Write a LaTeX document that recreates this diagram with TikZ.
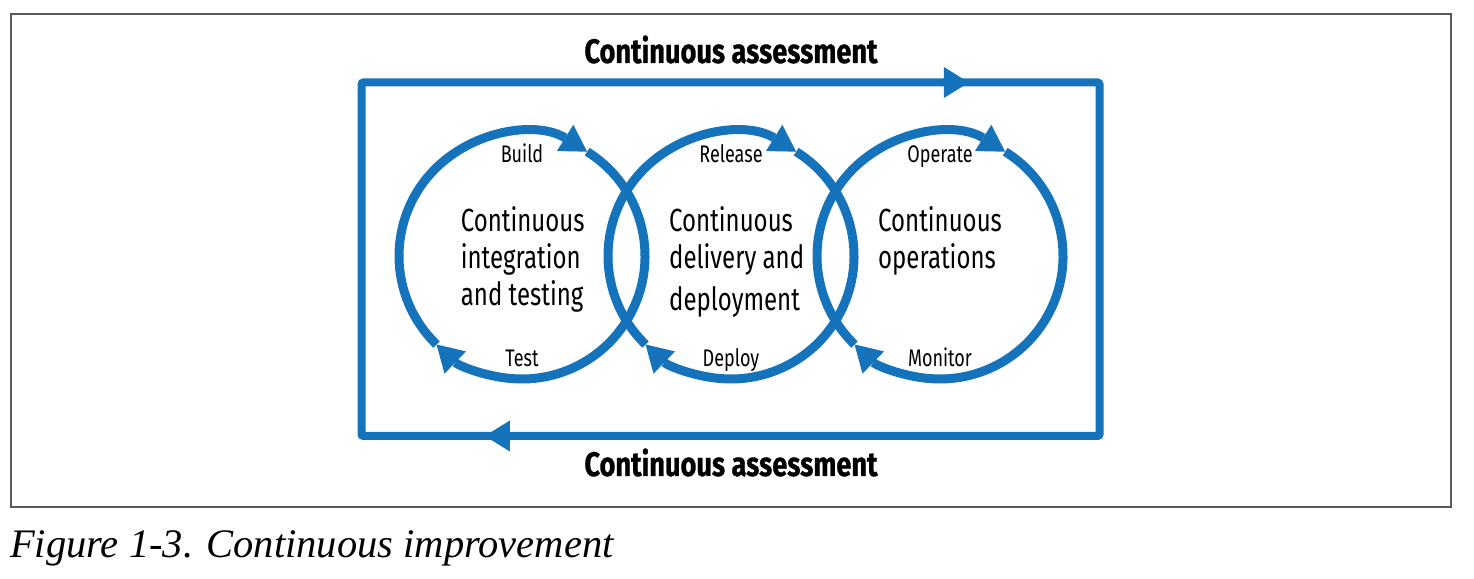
\documentclass[tikz,border=0pt]{standalone}
\usepackage{fontspec}
\setmainfont{Liberation Serif}
\newfontfamily\condsans{Fira Sans}[FakeStretch=0.75]
\newfontfamily\condsansbf{Fira Sans}[FakeStretch=0.80, BoldFeatures={FakeBold=0.8}]
\usepackage{tikz}
\usetikzlibrary{arrows.meta,decorations.markings}
\definecolor{cyclblue}{RGB}{20,115,186}
\tikzset{
  framebox/.style={draw=black!65, line width=1.3pt},
  loopline/.style={
    draw=cyclblue, line width=8pt, rounded corners=2pt
  },
  looptip/.style={
    postaction={decorate},
    decoration={markings,
      mark=at position 958pt with {\arrow{Triangle[length=25pt,width=31pt,line width=0pt]}},
      mark=at position 2055pt with {\arrow{Triangle[length=25pt,width=31pt,line width=0pt]}}}
  },
  cyclearc/.style={
    draw=cyclblue, line width=9pt,
    -{Triangle[length=26pt,width=31pt,line width=0pt]}
  },
  phasetext/.style={
    font=\condsans\fontsize{32}{37}\selectfont,
    align=left, anchor=north west, inner sep=0pt
  },
  steplabel/.style={
    font=\condsans\fontsize{24}{28}\selectfont,
    anchor=base, inner sep=0pt
  },
  looplabel/.style={
    font=\condsansbf\bfseries\fontsize{34}{40}\selectfont,
    anchor=base, inner sep=0pt
  },
  caption/.style={
    font=\itshape\fontsize{40.5}{46}\selectfont,
    anchor=base west, inner sep=0pt
  }
}

\begin{document}
\begin{tikzpicture}[x=1pt, y=1pt]
  \useasboundingbox (0,0) rectangle (1474,578);

  % ==== FRAME ====
  \draw[framebox] (11,71) rectangle (1451,564);

  % ==== ASSESSMENT LOOP ====
  \coordinate (bl) at (361.5,142);
  \coordinate (tl) at (361.5,495.5);
  \coordinate (tr) at (1099.5,495.5);
  \coordinate (br) at (1099.5,142);
  \draw[loopline, looptip] (bl) -- (tl) -- (tr) -- (br) -- cycle;
  \node[looplabel] (assessTop) at (731,515) {Continuous assessment};
  \node[looplabel] (assessBot) at (731,102) {Continuous assessment};

  % ==== THREE CYCLES ====
  \coordinate (cInt) at (522,322);
  \coordinate (cDel) at (731,322);
  \coordinate (cOps) at (940,322);
  \foreach \c in {cInt,cDel,cOps}{
    \draw[cyclearc] ([shift={(58:123)}]\c) arc[start angle=58, end angle=-134, radius=123];
    \draw[cyclearc] ([shift={(226:123)}]\c) arc[start angle=226, end angle=58, radius=123];
  }

  \node[phasetext] (tInt) at (460.7,372) {Continuous\\integration\\and testing};
  \node[phasetext] (tDel) at (669,372)   {Continuous\\delivery and\\[5pt]deployment};
  \node[phasetext] (tOps) at (878,372)   {Continuous\\operations};

  \node[steplabel] (lBuild)   at (522,415) {Build};
  \node[steplabel] (lTest)    at (522,211) {Test};
  \node[steplabel] (lRelease) at (731,415) {Release};
  \node[steplabel] (lDeploy)  at (731,211) {Deploy};
  \node[steplabel] (lOperate) at (940,415) {Operate};
  \node[steplabel] (lMonitor) at (940,211) {Monitor};

  % ==== CAPTION ====
  \node[caption] (cap) at (10,21) {Figure 1-3. Continuous improvement};
\end{tikzpicture}
\end{document}
